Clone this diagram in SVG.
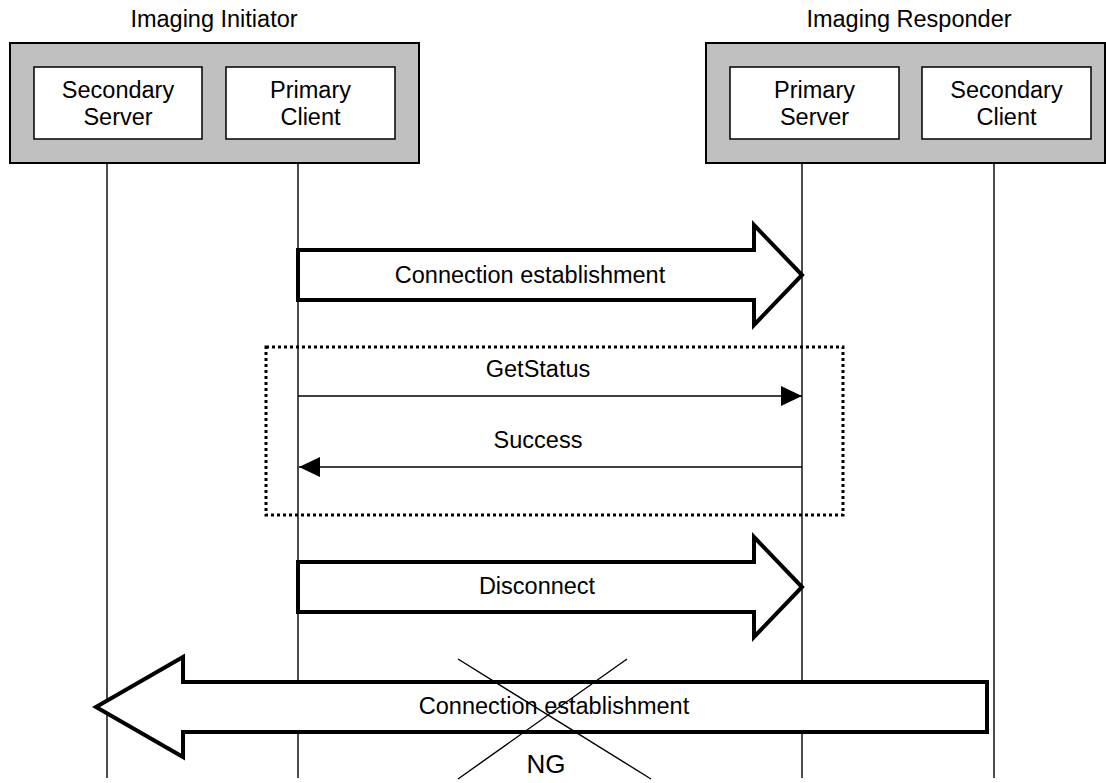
<svg xmlns="http://www.w3.org/2000/svg" width="1106" height="783" viewBox="0 0 1106 783">
<defs>
<style>
text{font-family:"Liberation Sans",Arial,sans-serif;font-size:23.5px;fill:#000;text-anchor:middle}
.outer{fill:#c0c0c0;stroke:#000;stroke-width:2}
.inner{fill:#fff;stroke:#000;stroke-width:1.5}
.life{stroke:#000;stroke-width:1.4;fill:none}
.msg{stroke:#000;stroke-width:1.4;fill:none;marker-end:url(#ah)}
.big{fill:#fff;stroke:#000;stroke-width:4;stroke-linejoin:miter}
.dot{fill:none;stroke:#000;stroke-width:3;stroke-dasharray:3 3}
.x{stroke:#000;stroke-width:1.4}
</style>
<marker id="ah" markerUnits="userSpaceOnUse" markerWidth="21" markerHeight="20" refX="21" refY="10" orient="auto">
<path d="M0,0 L21,10 L0,20 Z" fill="#000"/>
</marker>
</defs>
<rect width="1106" height="783" fill="#fff"/>
<g id="lifelines">
<line class="life" x1="107" y1="163" x2="107" y2="778"/>
<line class="life" x1="298" y1="163" x2="298" y2="778"/>
<line class="life" x1="802" y1="163" x2="802" y2="778"/>
<line class="life" x1="994" y1="163" x2="994" y2="778"/>
</g>
<g id="imaging-initiator">
<text x="214" y="27">Imaging Initiator</text>
<rect class="outer" x="10" y="43" width="409" height="120"/>
<g id="secondary-server">
<rect class="inner" x="34" y="67" width="168" height="72"/>
<text x="118" y="98">Secondary</text>
<text x="118" y="125">Server</text>
</g>
<g id="primary-client">
<rect class="inner" x="226" y="67" width="169" height="72"/>
<text x="310.5" y="98">Primary</text>
<text x="310.5" y="125">Client</text>
</g>
</g>
<g id="imaging-responder">
<text x="909" y="27">Imaging Responder</text>
<rect class="outer" x="706" y="43" width="399" height="120"/>
<g id="primary-server">
<rect class="inner" x="730" y="67" width="169" height="72"/>
<text x="814.5" y="98">Primary</text>
<text x="814.5" y="125">Server</text>
</g>
<g id="secondary-client">
<rect class="inner" x="922" y="67" width="169" height="72"/>
<text x="1006.5" y="98">Secondary</text>
<text x="1006.5" y="125">Client</text>
</g>
</g>
<g id="connectors">
<g id="conn1">
<polygon class="big" points="298,250 754,250 754,225 802,275 754,325 754,300 298,300"/>
<text x="530" y="283">Connection establishment</text>
</g>
<g id="status-group">
<rect class="dot" x="266" y="347" width="577" height="168"/>
<line class="msg" x1="298" y1="396" x2="802" y2="396"/>
<text x="538" y="377">GetStatus</text>
<line class="msg" x1="802" y1="467" x2="299" y2="467"/>
<text x="538" y="448">Success</text>
</g>
<g id="disconnect">
<polygon class="big" points="298,562 754,562 754,537 802,587 754,637 754,612 298,612"/>
<text x="537" y="594">Disconnect</text>
</g>
<g id="conn-ng">
<polygon class="big" points="987,682 183,682 183,657 96,707 183,757 183,732 987,732"/>
<text x="554" y="714">Connection establishment</text>
<line class="x" x1="458" y1="659" x2="651" y2="779"/>
<line class="x" x1="627" y1="659" x2="458" y2="779"/>
<text x="546" y="773" style="font-size:26px">NG</text>
</g>
</g>
</svg>
